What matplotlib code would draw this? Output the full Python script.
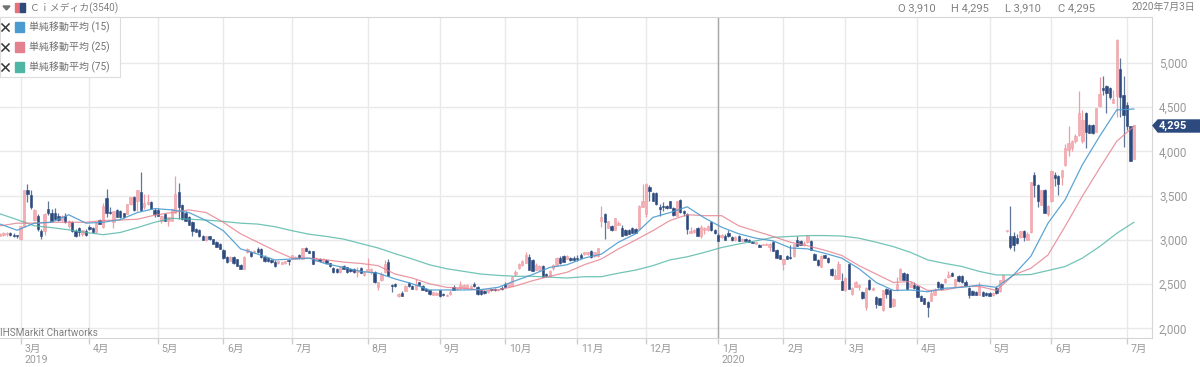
import matplotlib
matplotlib.use("Agg")
import matplotlib.pyplot as plt
from matplotlib.patches import Polygon, Rectangle

plt.rcParams['font.family'] = ['Roboto', 'Noto Sans CJK JP', 'DejaVu Sans']

# daily candles (open, high, low, close)
feb19 = [(3050,3080,3040,3070),(3060,3085,3050,3075),(3065,3090,3050,3080),(3075,3090,3045,3060),(3060,3075,3035,3045),(3045,3060,3025,3040)]
mar19 = [(3010,3160,3005,3160),(3160,3570,3150,3565),(3570,3630,3425,3520),(3510,3570,3350,3370),(3225,3345,3220,3340),
         (3270,3290,3105,3125),(3105,3120,3010,3050),(3105,3300,3060,3290),(3350,3445,3285,3300),(3300,3350,3210,3220),
         (3300,3360,3225,3240),(3275,3310,3220,3225),(3225,3280,3220,3275),(3275,3300,3195,3200),(3160,3225,3130,3220),
         (3200,3215,3090,3105),(3105,3125,3035,3050),(3140,3150,3050,3085),(3070,3115,3050,3110),(3105,3120,3040,3060)]
apr19 = [(3150,3165,3110,3125),(3140,3150,3075,3085),(3085,3200,3080,3195),(3225,3240,3180,3185),(3145,3415,3140,3385),
         (3475,3575,3260,3310),(3310,3370,3290,3300),(3200,3330,3130,3325),(3340,3350,3255,3260),(3330,3340,3250,3260),
         (3300,3310,3250,3255),(3295,3410,3290,3405),(3405,3490,3400,3485),(3490,3500,3330,3335),(3435,3565,3330,3560),
         (3540,3765,3330,3335),(3370,3520,3350,3415),(3405,3520,3390,3425),(3425,3435,3345,3350),(3340,3360,3255,3295)]
may19 = [(3340,3360,3270,3275),(3220,3280,3190,3275),(3295,3310,3215,3220),(3220,3265,3160,3255),(3220,3350,3210,3350),
         (3310,3725,3300,3520),(3545,3640,3235,3370),(3390,3410,3230,3240),(3310,3330,3215,3220),(3255,3270,3165,3165),
         (3200,3215,3050,3105),(3125,3135,3085,3090),(3115,3125,3035,3040),(3050,3060,2995,3005),(3005,3050,2990,3040),
         (3040,3050,3000,3010),(3010,3015,2955,2960),(2975,2985,2920,2925),(2960,2970,2895,2900)]
jun19 = [(2885,2895,2790,2795),(2810,2815,2745,2750),(2765,2815,2760,2810),(2810,2820,2730,2735),(2785,2790,2705,2710),
         (2715,2725,2670,2675),(2675,2815,2670,2810),(2860,2905,2855,2900),(2860,2870,2810,2815),(2860,2890,2855,2880),
         (2900,2925,2855,2860),(2900,2910,2800,2805),(2810,2830,2755,2760),(2795,2810,2755,2760),(2775,2785,2745,2750),
         (2755,2770,2700,2705),(2735,2765,2730,2760),(2730,2755,2725,2750),(2735,2765,2730,2760),(2765,2770,2720,2760)]
jul19 = [(2790,2830,2785,2825),(2790,2815,2780,2810),(2825,2840,2790,2800),(2785,2915,2780,2905),(2910,2925,2870,2870),
         (2880,2890,2850,2850),(2870,2880,2725,2730),(2765,2805,2760,2800),(2785,2795,2755,2760),(2760,2800,2735,2785),
         (2770,2780,2730,2740),(2740,2745,2700,2710),(2685,2695,2630,2635),(2675,2685,2630,2635),(2640,2705,2630,2700),
         (2710,2720,2670,2675),(2690,2700,2630,2635),(2670,2680,2640,2645),(2670,2680,2630,2635),(2635,2690,2585,2665),
         (2680,2690,2625,2625),(2600,2650,2595,2640)]
aug19 = [(2650,2800,2640,2670),(2635,2680,2620,2670),(2635,2645,2510,2525),(2465,2530,2435,2525),(2545,2640,2540,2620),
         (2635,2775,2630,2730),(2750,2780,2590,2590),(2490,2500,2410,2485),(2500,2510,2470,2485),(2365,2405,2360,2395),
         (2405,2425,2365,2370),(2420,2490,2420,2485),(2510,2520,2470,2475),(2485,2495,2445,2450),(2445,2560,2440,2505),
         (2520,2530,2495,2495),(2485,2495,2435,2440),(2445,2455,2420,2425),(2430,2440,2380,2385),(2380,2415,2375,2410),
         (2380,2410,2375,2405)]
sep19 = [(2430,2440,2360,2365),(2385,2400,2370,2375),(2370,2385,2365,2380),(2385,2440,2380,2415),(2465,2490,2430,2440),
         (2450,2470,2440,2460),(2460,2535,2450,2490),(2455,2500,2450,2490),(2460,2500,2455,2495),(2455,2490,2450,2480),
         (2505,2530,2470,2475),(2465,2475,2380,2385),(2430,2440,2375,2385),(2425,2435,2395,2400),(2410,2440,2405,2435),
         (2440,2450,2420,2430),(2445,2460,2425,2430),(2430,2450,2425,2445),(2460,2475,2440,2445)]
oct19 = [(2505,2525,2465,2470),(2475,2520,2470,2510),(2485,2590,2480,2580),(2620,2660,2590,2640),(2680,2735,2675,2730),
         (2715,2770,2710,2760),(2740,2860,2735,2825),(2810,2840,2660,2665),(2775,2790,2650,2655),(2665,2740,2660,2720),
         (2660,2715,2650,2710),(2710,2720,2580,2580),(2615,2625,2585,2590),(2590,2660,2585,2655),(2680,2730,2660,2720),
         (2715,2810,2710,2800),(2800,2815,2730,2735),(2815,2825,2750,2755),(2790,2825,2780,2815),(2800,2810,2765,2770),
         (2800,2815,2765,2770)]
nov19 = [(2790,2835,2760,2785),(2825,2855,2795,2800),(2840,2865,2835,2860),(2840,2865,2830,2860),(2875,2885,2800,2805),
         (2815,2865,2810,2860),(2815,2910,2810,2905),(3220,3385,3150,3255),(3295,3305,3010,3205),(3135,3220,3130,3210),
         (3160,3175,3105,3115),(3115,3250,3110,3245),(3170,3215,3165,3190),(3140,3165,3045,3050),(3110,3125,3055,3060),
         (3110,3125,3065,3070),(3135,3150,3075,3080),(3125,3140,3075,3080),(3125,3395,3120,3385),(3375,3630,3370,3445)]
dec19 = [(3290,3640,3260,3630),(3600,3625,3445,3550),(3530,3545,3440,3445),(3535,3545,3400,3405),(3375,3405,3275,3350),
         (3385,3425,3330,3370),(3385,3395,3355,3360),(3435,3440,3360,3365),(3360,3370,3275,3280),(3275,3440,3270,3435),
         (3450,3460,3310,3315),(3325,3340,3275,3300),(3295,3310,3065,3125),(3080,3150,3075,3105),(3085,3125,3080,3110),
         (3135,3145,3045,3050),(3050,3165,3025,3150),(3110,3150,3070,3140),(3115,3170,3100,3160),(3200,3210,3105,3110),
         (3115,3125,3070,3075)]
jan20 = [(3060,3075,2985,2990),(3035,3070,3025,3060),(3045,3070,2995,3000),(3075,3110,3035,3040),(3035,3050,2990,2995),
         (2995,3040,2990,3030),(3040,3060,2985,2990),(2990,3020,2985,3010),(3010,3025,2985,2990),(3000,3010,2980,2980),
         (2980,2990,2965,2965),(2960,2975,2955,2970),(2945,2955,2920,2925),(2945,2960,2940,2955),(2945,2970,2940,2960),
         (2925,2965,2870,2960),(2975,2985,2880,2880),(2885,2895,2795,2800),(2825,2835,2785,2790)]
feb20 = [(2730,2790,2660,2785),(2815,2830,2785,2790),(2800,2940,2785,2795),(2815,2960,2810,2950),(3000,3050,2930,2930),
         (2990,3000,2940,2945),(2940,2985,2935,2965),(2975,3055,2970,3050),(2985,3000,2885,2890),(2845,2855,2770,2775),
         (2775,2785,2710,2715),(2695,2825,2690,2815),(2825,2835,2795,2800),(2800,2810,2745,2750),(2675,2685,2595,2600),
         (2560,2670,2555,2605),(2560,2760,2555,2730),(2540,2630,2430,2435)]
mar20 = [(2430,2580,2420,2575),(2730,2735,2445,2450),(2385,2465,2380,2460),(2470,2535,2465,2530),(2470,2500,2435,2490),
         (2410,2420,2335,2340),(2240,2465,2210,2460),(2550,2560,2440,2445),(2440,2470,2435,2460),(2355,2365,2235,2280),
         (2340,2350,2260,2260),(2205,2440,2200,2435),(2450,2460,2340,2395),(2440,2450,2240,2245),(2250,2340,2245,2335),
         (2430,2580,2425,2500),(2550,2680,2545,2670),(2625,2640,2545,2550),(2620,2630,2440,2445),(2470,2540,2465,2510),
         (2490,2530,2450,2460)]
apr20 = [(2480,2490,2355,2360),(2365,2375,2310,2315),(2340,2350,2275,2280),(2300,2310,2130,2245),(2315,2440,2305,2400),
         (2380,2460,2375,2435),(2520,2535,2455,2465),(2505,2515,2440,2445),(2520,2570,2515,2555),(2580,2645,2570,2605),
         (2625,2640,2590,2590),(2475,2560,2470,2555),(2590,2605,2530,2535),(2590,2600,2515,2520),(2530,2545,2475,2480),
         (2455,2465,2345,2380),(2420,2430,2375,2380),(2415,2425,2375,2380),(2380,2520,2375,2475),(2415,2425,2365,2370),
         (2405,2415,2370,2375)]
may20 = [(2400,2410,2365,2370),(2375,2415,2370,2405),(2455,2480,2395,2400),(2420,2550,2415,2545),(2530,2605,2525,2600),
         (3100,3105,3095,3100),(3045,3380,2900,2920),(3040,3095,2870,2945),(3020,3070,2955,2965),(3030,3105,3025,3105),
         (3105,3110,2985,3030),(3000,3085,2995,3070),(3085,3660,3080,3655),(3735,3765,3490,3625),(3625,3635,3375,3435),
         (3395,3565,3390,3560),(3560,3575,3300,3305),(3295,3395,3270,3385)]
jun20 = [(3435,3790,3430,3785),(3735,3765,3605,3700),(3725,3735,3510,3635),(3710,3795,3625,3790),(3850,4080,3840,4040),
         (4020,4285,3945,4100),(4040,4130,4000,4115),(4115,4200,4100,4180),(4190,4680,4180,4435),(4115,4470,4100,4360),
         (4440,4450,4040,4215),(4295,4310,4205,4210),(4295,4310,4195,4210),(4225,4490,4220,4490),(4510,4840,4505,4650),
         (4715,4855,4640,4690),(4745,4755,4440,4660),(4720,4730,4590,4620),(4550,4700,4545,4590),(4630,5270,4395,5265),
         (4930,5055,4385,4620),(4640,4855,4055,4415)]
jul20 = [(4530,4555,4240,4285),(4285,4285,3890,3890),(3910,4295,3910,4295)]

months = [feb19, mar19, apr19, may19, jun19, jul19, aug19, sep19, oct19, nov19, dec19,
          jan20, feb20, mar20, apr20, may20, jun20, jul20]
month_labels = ['3月', '4月', '5月', '6月', '7月', '8月', '9月', '10月', '11月', '12月',
                '1月', '2月', '3月', '4月', '5月', '6月', '7月']
price_ticks = [2000, 2500, 3000, 3500, 4000, 4500, 5000]

# moving averages, read every 5th bar
ma_step = 5
ma15 = [3180,3110,3190,3200,3285,3190,3200,3230,3310,3355,3340,3310,3220,3105,2900,2840,2775,2785,2795,2730,
        2690,2645,2625,2560,2505,2435,2435,2435,2440,2465,2540,2610,2690,2720,2795,2840,2975,3070,3255,3310,
        3375,3250,3145,3070,3020,2990,2910,2900,2850,2795,2675,2520,2430,2435,2415,2455,2465,2490,2465,2605,
        2815,3190,3455,3850,4170,4470,4480]
ma25 = [3160,3190,3190,3200,3200,3200,3220,3225,3235,3280,3310,3340,3310,3200,3070,2975,2880,2795,2795,2775,
        2750,2735,2710,2615,2570,2505,2465,2455,2435,2435,2480,2540,2590,2635,2720,2785,2900,3000,3105,3220,
        3285,3275,3275,3160,3100,3040,2975,2935,2885,2825,2710,2615,2520,2530,2430,2435,2475,2475,2430,2605,
        2680,2830,3155,3495,3810,4115,4285]
ma75 = [3295,3230,3160,3140,3115,3085,3060,3085,3140,3200,3245,3235,3225,3210,3190,3180,3150,3105,3065,3040,
        3010,2960,2910,2845,2785,2720,2675,2645,2615,2600,2590,2590,2580,2570,2585,2585,2625,2660,2710,2775,
        2810,2860,2915,2955,2990,3030,3040,3050,3050,3045,3020,2975,2925,2860,2775,2735,2700,2645,2605,2605,
        2610,2655,2700,2795,2925,3075,3200]

PINK = '#f4aeb3'
PINK_WICK = '#ee9ea4'
NAVY = '#2c4a7e'
NAVY_WICK = '#5f7699'
GRID = '#e9e9e9'
LABEL = '#9a9a9a'
BLUE, RED, TEAL = '#4c9bcf', '#e5808e', '#4fb5a5'

candles = [c for m in months for c in m]
opens = [c[0] for c in candles]
highs = [c[1] for c in candles]
lows = [c[2] for c in candles]
closes = [c[3] for c in candles]
xs = list(range(len(candles)))

# first bar of each month from 3月 2019 on
month_starts = []
pos = 0
for m in months[:-1]:
    pos += len(m)
    month_starts.append(pos)

fig = plt.figure(figsize=(12, 3.67), dpi=100)
W, H = 1200, 367
ax = fig.add_axes([0, (H - 338) / H, 1152 / W, (338 - 17) / H])
ax.set_xlim(0, 1152 / 3.436)
ax.set_ylim(5000 - (338 - 63) * 11.3, 5000 + (63 - 17) * 11.3)

ax.set_yticks(price_ticks)
ax.set_yticklabels([f'{p:,}' for p in price_ticks], color=LABEL, fontsize=8.4)
ax.yaxis.tick_right()
ax.set_xticks(month_starts)
ax.set_xticklabels([])
ax.tick_params(axis='y', length=0, pad=5)
ax.tick_params(axis='x', length=4, width=1, color='#cccccc')
ax.grid(True, color=GRID, linewidth=1.0)
ax.set_axisbelow(True)
ax.spines['left'].set_visible(False)
for side in ['top', 'right', 'bottom']:
    ax.spines[side].set_color('#d6d6d6')
ax.axvline(month_starts[10], color='#a8a8a8', linewidth=1.0, zorder=1)

# month labels sit to the right of their tick
for tx, lab in zip(month_starts, month_labels):
    ax.annotate(lab, (tx, 0), xycoords=('data', 'axes fraction'), xytext=(2.6, -8),
                textcoords='offset points', color=LABEL, fontsize=7.6, va='center')
for tx, lab in [(month_starts[0], '2019'), (month_starts[10], '2020')]:
    ax.annotate(lab, (tx, 0), xycoords=('data', 'axes fraction'), xytext=(2.6, -16),
                textcoords='offset points', color=LABEL, fontsize=7.6, va='center')

# candles
for x, o, h, l, c in zip(xs, opens, highs, lows, closes):
    up = c >= o
    ax.vlines(x, l, h, color=PINK_WICK if up else NAVY_WICK, linewidth=0.9, zorder=2)
    ax.bar(x, max(abs(c - o), 12), bottom=min(o, c), width=0.68,
           color=PINK if up else NAVY, edgecolor=PINK_WICK if up else NAVY,
           linewidth=0.4, zorder=3)

ma_x = list(range(0, len(candles), ma_step))
ax.plot(ma_x, ma75, color=TEAL, linewidth=0.9, alpha=0.8, zorder=4)
ax.plot(ma_x, ma25, color=RED, linewidth=0.9, alpha=0.8, zorder=4)
ax.plot(ma_x, ma15, color=BLUE, linewidth=0.9, alpha=0.9, zorder=5)


def px(x, y):
    return x / W, 1 - y / H


# header row
fig.text(*px(30, 8), 'Ｃｉメディカ(3540)', color='#808080', fontsize=7.1, va='center')
fig.patches.append(Polygon([px(3, 6), px(10, 6), px(6.5, 10)], closed=True, color='#707070', transform=fig.transFigure))
fig.patches.append(Rectangle(px(15, 12), 5 / W, 9 / H, color='#e8707a', transform=fig.transFigure))
fig.patches.append(Rectangle(px(20, 12), 4.5 / W, 9 / H, color=NAVY, transform=fig.transFigure))
for hx, txt in [(898, 'O 3,910'), (951, 'H 4,295'), (1005, 'L 3,910'), (1058, 'C 4,295')]:
    fig.text(*px(hx, 8), txt, color='#808080', fontsize=8, va='center')
fig.text(*px(1132, 7), '2020年7月3日', color='#808080', fontsize=7.2, va='center')

# legend box
fig.patches.append(Rectangle(px(0, 77), 120 / W, 60 / H, facecolor='white', edgecolor='#dddddd',
                             linewidth=0.8, transform=fig.transFigure, zorder=6))
for row_y, col, name in [(27, BLUE, '単純移動平均 (15)'), (47, RED, '単純移動平均 (25)'), (67, TEAL, '単純移動平均 (75)')]:
    fig.add_artist(plt.Line2D([2 / W, 9 / W], [1 - (row_y - 3) / H, 1 - (row_y + 4) / H], color='#333333', linewidth=1.1, zorder=7))
    fig.add_artist(plt.Line2D([2 / W, 9 / W], [1 - (row_y + 4) / H, 1 - (row_y - 3) / H], color='#333333', linewidth=1.1, zorder=7))
    fig.patches.append(Rectangle(px(15, row_y + 4.5), 9 / W, 9 / H, color=col, transform=fig.transFigure, zorder=7))
    fig.text(*px(29, row_y), name, color='#707070', fontsize=7.2, va='center', zorder=7)

fig.text(*px(0, 333), 'IHSMarkit Chartworks', color='#808080', fontsize=7.2, va='center', zorder=7)

# last price tag
fig.patches.append(Polygon([px(1153, 125.5), px(1158, 120), px(1200, 120), px(1200, 132), px(1158, 132)],
                           closed=True, color=NAVY, transform=fig.transFigure, zorder=7))
fig.text(*px(1159, 126), '4,295', color='white', fontsize=8, fontweight='bold', va='center', zorder=8)

fig.savefig('out.png', dpi=100)
